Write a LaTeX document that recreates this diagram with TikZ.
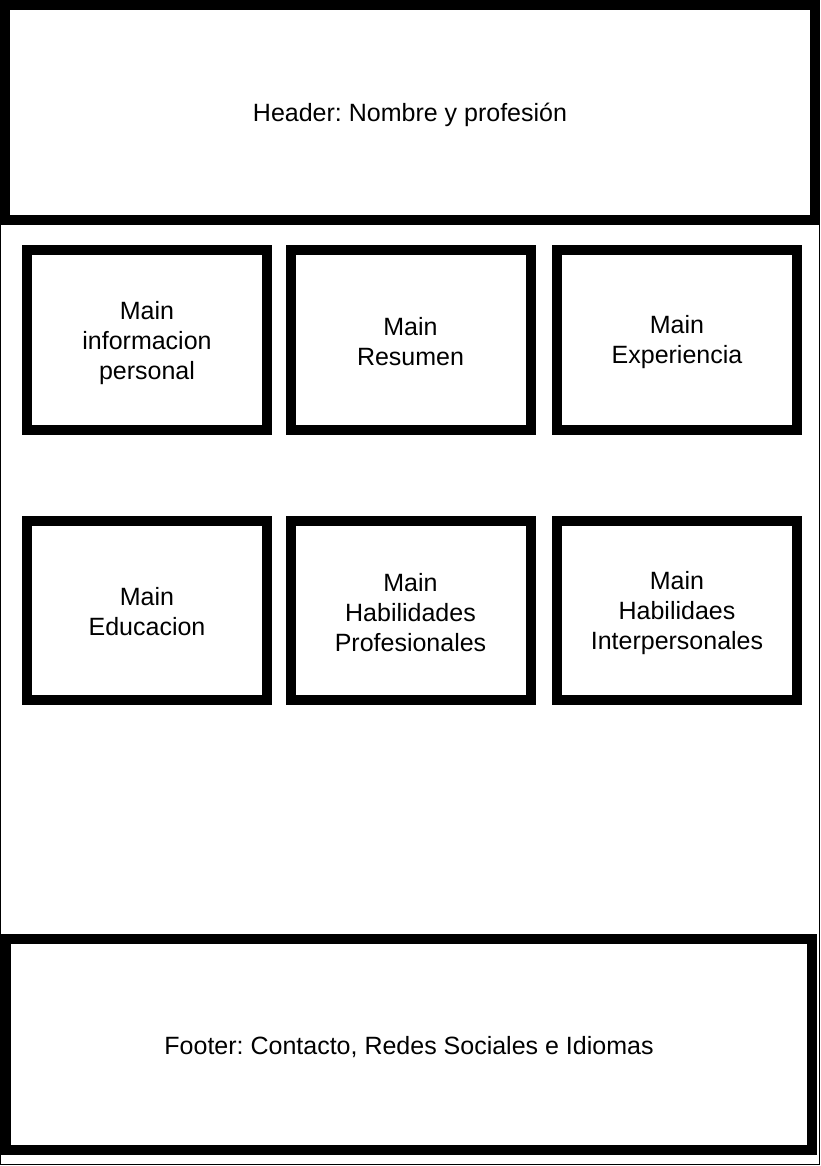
\documentclass[tikz,border=0pt]{standalone}
\usepackage{fontspec}
\setmainfont{Liberation Sans}
\frenchspacing
\begin{document}
\begin{tikzpicture}[x=1pt,y=-1pt,
  thickbox/.style={draw=black,line width=10pt,fill=white},
  lbl/.style={font=\fontsize{25}{30}\selectfont,align=center,text=black,inner sep=0pt}]
\useasboundingbox (0,0) rectangle (821,1166);
\fill[white] (0,0) rectangle (821,1166);
% outer thin frame
\draw[line width=1pt] (0.5,0.5) rectangle (819.5,1164.5);
% header
\draw[thickbox] (5,5) rectangle (815,220);
\node[lbl] (header) at (410,115) {Header: Nombre y profesión};
% footer
\draw[thickbox] (6,939) rectangle (812,1150);
\node[lbl] (footer) at (409,1047) {Footer: Contacto, Redes Sociales e Idiomas};
% row 1
\draw[thickbox] (27,250) rectangle (267,430);
\node[lbl] (b1) at (147,343) {Main\\informacion\\personal};
\draw[thickbox] (290.5,250) rectangle (530.5,430);
\node[lbl] (b2) at (410.5,342) {Main\\Resumen};
\draw[thickbox] (557,250) rectangle (797,430);
\node[lbl] (b3) at (677,342) {Main\\Experiencia};
% row 2
\draw[thickbox] (27,520.5) rectangle (267,700);
\node[lbl] (b4) at (147,612) {Main\\Educacion};
\draw[thickbox] (290.5,520.5) rectangle (530.5,700);
\node[lbl] (b5) at (410.5,613) {Main\\Habilidades\\Profesionales};
\draw[thickbox] (557,520.5) rectangle (797,700);
\node[lbl] (b6) at (677,613) {Main\\Habilidaes\\Interpersonales};
\end{tikzpicture}
\end{document}
